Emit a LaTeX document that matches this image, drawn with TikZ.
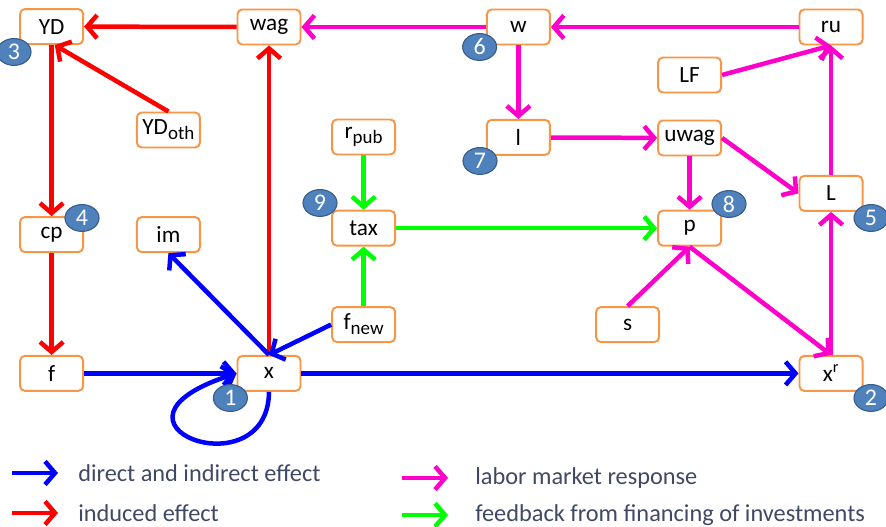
\documentclass[tikz,border=0pt]{standalone}
\usepackage{fontspec}
\setmainfont{Carlito}
\usetikzlibrary{arrows.meta}
\usetikzlibrary{shapes.geometric}
\definecolor{boxorange}{RGB}{247,150,70}
\definecolor{numblue}{RGB}{79,129,189}
\definecolor{numborder}{RGB}{56,93,138}
\definecolor{linkmag}{RGB}{255,0,204}
\definecolor{linkgreen}{RGB}{0,255,0}
\definecolor{legendtext}{RGB}{64,72,100}
\newcommand{\lowsub}[1]{\raisebox{-0.45ex}{\fontsize{13.5}{15}\selectfont #1}}
\tikzset{
varbox/.style={draw=boxorange,line width=1.4pt,rounded corners=0.12cm,fill=white,minimum width=1.575cm,minimum height=0.875cm,inner sep=0pt,font=\fontsize{16.5}{19}\selectfont},
numtag/.style={ellipse,draw=numborder,fill=numblue,line width=0.8pt,minimum width=0.85cm,minimum height=0.67cm,inner sep=0pt,text=white,font=\fontsize{17}{19}\selectfont},
effect/.style={line width=3.2pt,-{Straight Barb[length=0.25cm,width=0.58cm]}},
legtext/.style={anchor=west,inner sep=0pt,text=legendtext,font=\fontsize{17.3}{20}\selectfont}
}
\begin{document}
\begin{tikzpicture}
\useasboundingbox (0,0) rectangle (22.15,13.175);
\node[varbox] (yd) at (1.29,12.51) {YD};
\node[varbox] (wag) at (6.725,12.5) {wag};
\node[varbox] (w) at (12.96,12.5) {w};
\node[varbox] (ru) at (20.775,12.5) {ru};
\node[varbox] (lf) at (17.24,11.3) {LF};
\node[varbox] (ydoth) at (4.21,9.925) {YD\lowsub{oth}};
\node[varbox] (rpub) at (9.09,9.75) {r\lowsub{pub}};
\node[varbox] (l) at (12.96,9.74) {l};
\node[varbox] (uwag) at (17.24,9.725) {uwag};
\node[varbox] (tax) at (9.09,7.47) {tax};
\node[varbox] (cp) at (1.29,7.31) {cp};
\node[varbox] (im) at (4.21,7.31) {im};
\node[varbox] (p) at (17.24,7.47) {p};
\node[varbox] (L) at (20.775,8.34) {L};
\node[varbox] (fnew) at (9.09,5.06) {f\lowsub{new}};
\node[varbox] (s) at (15.69,5.06) {s};
\node[varbox] (f) at (1.29,3.84) {f};
\node[varbox] (x) at (6.725,3.84) {x};
\node[varbox] (xr) at (20.775,3.84) {x\textsuperscript{r}};

\draw[effect,red] (wag) -- (yd);
\draw[effect,red] (ydoth.north) -- ([xshift=0.08cm]yd.south);
\draw[effect,red] (yd) -- (cp);
\draw[effect,red] (cp) -- (f);
\draw[effect,red] (x) -- (wag);

\draw[effect,blue] (f) -- (x);
\draw[effect,blue] (x.north) -- (im.south);
\draw[effect,blue] (fnew.west) -- (x.north);
\draw[effect,blue] (x) -- (xr);
\draw[effect,blue] (x.south) .. controls (6.7,0.85) and (2.0,2.6) .. (x.west);

\draw[effect,linkmag] (w) -- (wag);
\draw[effect,linkmag] (ru) -- (w);
\draw[effect,linkmag] (lf.east) -- (ru.south);
\draw[effect,linkmag] (L) -- (ru);
\draw[effect,linkmag] (w) -- (l);
\draw[effect,linkmag] (l) -- (uwag);
\draw[effect,linkmag] (uwag) -- (p);
\draw[effect,linkmag] (uwag.east) -- (L.west);
\draw[effect,linkmag] (s.north) -- (p.south);
\draw[effect,linkmag] (p.south) -- (xr.north);
\draw[effect,linkmag] (xr) -- (L);

\draw[effect,linkgreen] (rpub) -- (tax);
\draw[effect,linkgreen] (fnew) -- (tax);
\draw[effect,linkgreen] (tax) -- (p);

\node[numtag] (n3) at (0.35,11.875) {3};
\node[numtag] (n4) at (2.05,7.725) {4};
\node[numtag] (n1) at (5.76,3.225) {1};
\node[numtag] (n9) at (8.0,8.1) {9};
\node[numtag] (n7) at (12.0,9.15) {7};
\node[numtag] (n6) at (11.99,12.0) {6};
\node[numtag] (n8) at (18.225,8.075) {8};
\node[numtag] (n5) at (21.775,7.725) {5};
\node[numtag] (n2) at (21.775,3.225) {2};

\draw[effect,blue] (0.3,1.35) -- (1.45,1.35);
\node[legtext] (leg1) at (1.95,1.35) {direct and indirect effect};
\draw[effect,red] (0.3,0.35) -- (1.45,0.35);
\node[legtext] (leg2) at (1.95,0.35) {induced effect};
\draw[effect,linkmag] (10.05,1.225) -- (11.2,1.225);
\node[legtext] (leg3) at (11.875,1.225) {labor market response};
\draw[effect,linkgreen] (10.05,0.3) -- (11.2,0.3);
\node[legtext] (leg4) at (11.875,0.3) {feedback from financing of investments};
\end{tikzpicture}
\end{document}
